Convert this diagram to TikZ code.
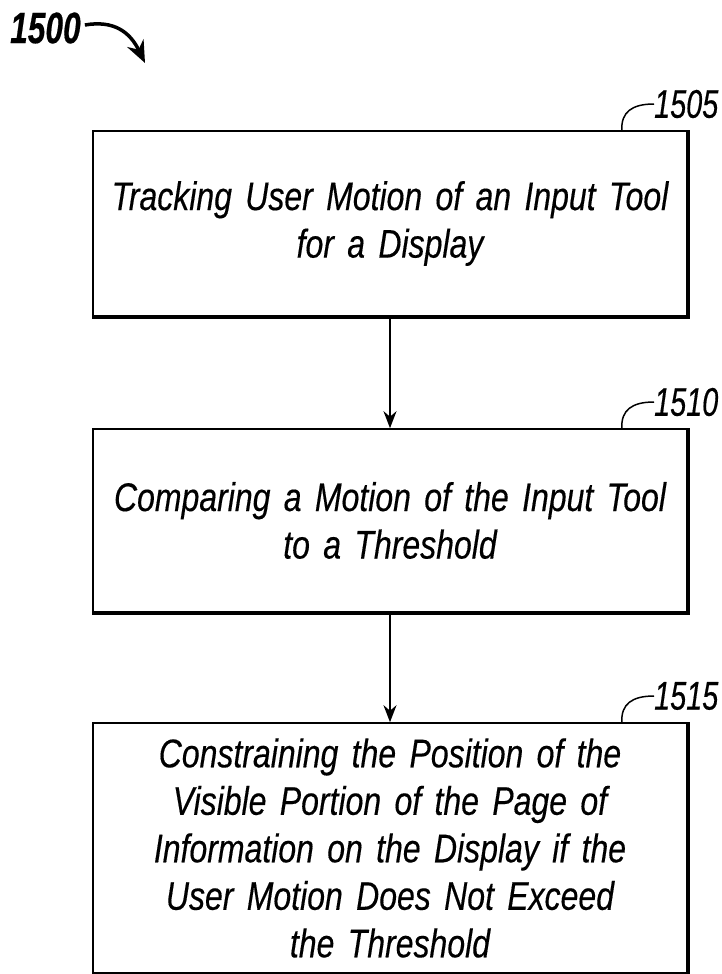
\documentclass[tikz,border=0pt]{standalone}
\usepackage{fontspec}
\usepackage{tikz}
\usetikzlibrary{arrows.meta,positioning}
\newfontfamily\figfont{Liberation Sans}[FakeStretch=0.8,WordSpace=0.4,FakeBold=0.3]
\newfontfamily\numfont{Liberation Sans}[FakeStretch=0.72,FakeBold=0.4]

\tikzset{
  procbox/.style={draw, line width=1.6pt, minimum width=594pt, text width=594pt,
    align=center, inner sep=0pt, font=\figfont\itshape\fontsize{40}{47.5}\selectfont},
  reflabel/.style={anchor=west, inner sep=0pt, font=\numfont\itshape\fontsize{40}{40}\selectfont},
  leader/.style={line width=1.5pt},
  flow/.style={-{Stealth[length=17pt,width=13pt]}, line width=2pt}
}

\begin{document}
\begin{tikzpicture}[x=1pt,y=-1pt]
            \useasboundingbox (0,0) rectangle (722,974);
            % figure number and its pointer
            \node[anchor=west, inner sep=0pt, font=\numfont\bfseries\itshape\fontsize{44}{44}\selectfont] (fig) at (10,28) {1500};
            \coordinate (figtip) at (145,63);
            \draw[-{Stealth[length=22pt,width=18pt]}, line width=3.5pt] (fig.east) ++(4,-3)
              .. controls (114,20) and (130,32) .. (figtip);
            % the three steps
            \node[procbox, minimum height=185pt] (track) at (390,223.5)
              {Tracking User Motion of an Input Tool\\for a Display};
            \node[procbox, minimum height=183pt] (compare) at (390,520.5)
              {Comparing a Motion of the Input Tool\\to a Threshold};
            \node[procbox, minimum height=250pt] (constrain) at (390,848)
              {Constraining the Position of the\\Visible Portion of the Page of\\Information on the Display if the\\User Motion Does Not Exceed\\the Threshold};
            % heavier right and bottom edges
            \draw[line width=3.5pt] (track.north east) -- (track.south east) -- (track.south west);
            \draw[line width=3.5pt] (compare.north east) -- (compare.south east) -- (compare.south west);
            \draw[line width=3.5pt] (constrain.north east) -- (constrain.south east) -- (constrain.south west);
            % reference numerals
            \node[reflabel] (n1505) at (654,104) {1505};
            \node[reflabel] (n1510) at (654,402) {1510};
            \node[reflabel] (n1515) at (654,696) {1515};
            \draw[leader] (track.north east) ++(-66,0) .. controls (621,112) and (632,104) .. (n1505.west);
            \draw[leader] (compare.north east) ++(-66,0) .. controls (621,410) and (632,402) .. (n1510.west);
            \draw[leader] (constrain.north east) ++(-66,0) .. controls (621,704) and (632,696) .. (n1515.west);
            % flow between steps
            \draw[flow] (track) -- (compare);
            \draw[flow] (compare) -- (constrain);
        \end{tikzpicture}
\end{document}
